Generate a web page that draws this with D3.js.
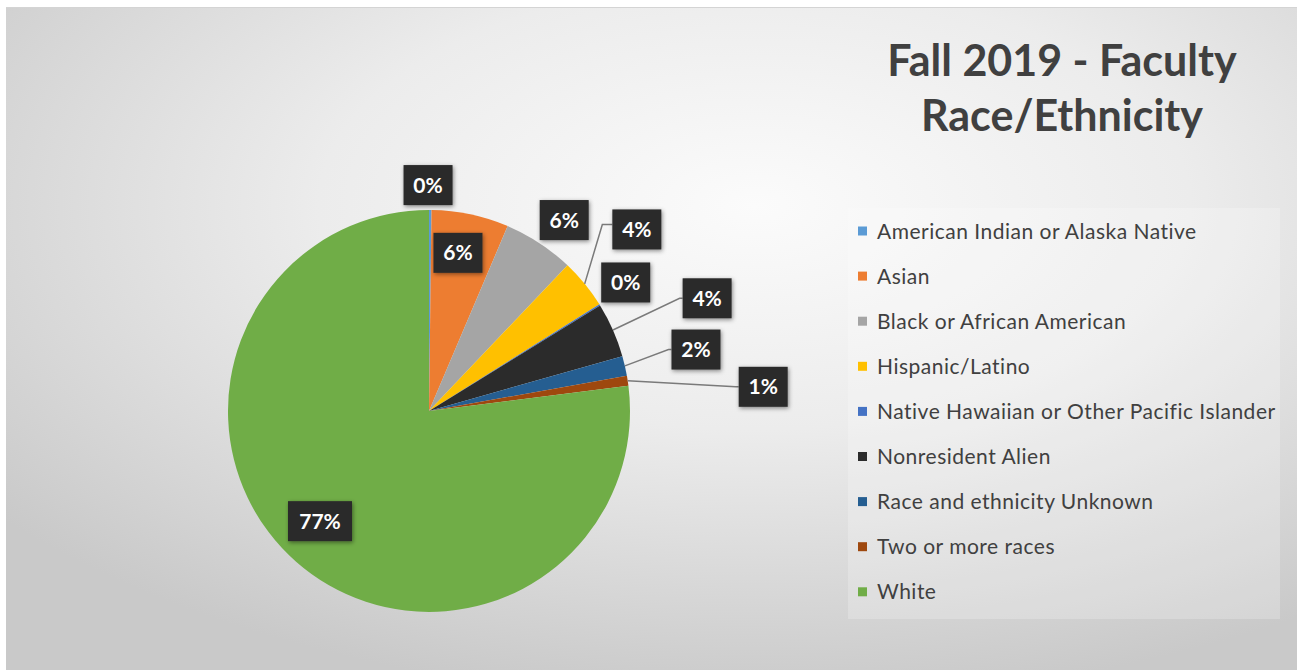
<!DOCTYPE html>
<html>
<head>
<meta charset="utf-8">
<script src="https://cdn.jsdelivr.net/npm/d3@7"></script>
<style>
  html, body { margin: 0; padding: 0; background: #ffffff; }
  svg { display: block; }
</style>
</head>
<body>
<svg id="chart" width="1297" height="670"></svg>
<script>
// Fall 2019 faculty headcount share by race/ethnicity (percent)
const categories = [
  "American Indian or Alaska Native",
  "Asian",
  "Black or African American",
  "Hispanic/Latino",
  "Native Hawaiian or Other Pacific Islander",
  "Nonresident Alien",
  "Race and ethnicity Unknown",
  "Two or more races",
  "White"
];
const shares = [0.2, 6.2, 5.7, 4.0, 0.1, 4.4, 1.6, 0.8, 77.0];
const sliceColors = ["#5b9bd5", "#ed7d31", "#a5a5a5", "#ffc000", "#4472c4",
                     "#2b2b2b", "#255e91", "#9e480e", "#70ad47"];
const titleLines = ["Fall 2019 - Faculty", "Race/Ethnicity"];

// Callout placement: angle shift (deg) from slice middle, distance as a multiple of the radius,
// and whether a leader line joins the callout to the slice edge
const calloutLayout = [
  { da: -0.6, k: 1.124, leader: false },
  { da: -1.5, k: 0.80,  leader: false },
  { da:  2.0, k: 1.164, leader: false },
  { da: -1.9, k: 1.373, leader: true, bend: true },
  { da: -1.3, k: 1.169, leader: false },
  { da:  1.7, k: 1.493, leader: true },
  { da:  0.0, k: 1.363, leader: true },
  { da:  4.5, k: 1.667, leader: true },
  { da:  3.3, k: 0.771, leader: false }
];

const W = 1297, H = 670;
const svg = d3.select("#chart");
const defs = svg.append("defs");

// Soft grey backdrop, lighter toward the upper middle
const bg = defs.append("radialGradient").attr("id", "bgGrad")
  .attr("cx", "58%").attr("cy", "30%").attr("r", "75%");
bg.append("stop").attr("offset", "0%").attr("stop-color", "#fbfbfb");
bg.append("stop").attr("offset", "45%").attr("stop-color", "#ececec");
bg.append("stop").attr("offset", "100%").attr("stop-color", "#c9c9c9");

const shadow = defs.append("filter").attr("id", "boxShadow")
  .attr("x", "-30%").attr("y", "-30%").attr("width", "160%").attr("height", "160%");
shadow.append("feDropShadow").attr("dx", 1).attr("dy", 1.5).attr("stdDeviation", 2)
  .attr("flood-color", "#000").attr("flood-opacity", 0.45);

svg.append("rect").attr("x", 6).attr("y", 7).attr("width", W - 6).attr("height", H - 7)
  .attr("fill", "url(#bgGrad)");
svg.append("line").attr("x1", 6).attr("x2", W).attr("y1", 7.5).attr("y2", 7.5)
  .attr("stroke", "#d4d4d4").attr("stroke-width", 1);

// Legend panel
svg.append("rect").attr("x", 848).attr("y", 208).attr("width", 432).attr("height", 411)
  .attr("fill", "#ffffff").attr("opacity", 0.22);

// Title
const title = svg.append("text").attr("text-anchor", "middle")
  .attr("font-family", "Lato, 'Open Sans', sans-serif").attr("font-weight", 700)
  .attr("font-size", 43).attr("fill", "#404040");
titleLines.forEach((t, i) => {
  title.append("tspan").attr("x", 1062).attr("y", 76 + i * 55).text(t);
});

// Pie
const cx = 429, cy = 411, R = 201;
const data = categories.map((c, i) => ({ name: c, value: shares[i], color: sliceColors[i], i }));
const pie = d3.pie().value(d => d.value).sort(null);
const arcs = pie(data);
const arc = d3.arc().innerRadius(0).outerRadius(R);

const g = svg.append("g").attr("transform", `translate(${cx},${cy})`);
g.selectAll("path.slice").data(arcs).join("path")
  .attr("class", "slice")
  .attr("d", arc)
  .attr("fill", d => d.data.color);

const polar = (angle, r) => [r * Math.sin(angle), -r * Math.cos(angle)];
const fmt = v => Math.round(v) + "%";

// Callouts
const callouts = g.append("g");
arcs.forEach((a, i) => {
  const lay = calloutLayout[i];
  const mid = (a.startAngle + a.endAngle) / 2;
  const [lx, ly] = polar(mid + lay.da * Math.PI / 180, lay.k * R);
  const label = fmt(a.data.value);
  const bw = label.length === 3 ? 64 : 49, bh = 40;
  const left = lx - bw / 2;

  if (lay.leader) {
    const [sx, sy] = polar(mid, R);
    const ty = lay.bend ? ly - 5 : ly;
    const pts = lay.bend
      ? [[sx, sy], [left - 10, ty], [left, ty]]
      : [[sx, sy], [left - 3, ty], [left, ty]];
    callouts.append("path")
      .attr("d", d3.line()(pts))
      .attr("fill", "none").attr("stroke", "#7a7a7a").attr("stroke-width", 1.5);
  }

  callouts.append("rect")
    .attr("x", left).attr("y", ly - bh / 2).attr("width", bw).attr("height", bh)
    .attr("fill", "#2a2a2a").attr("filter", "url(#boxShadow)");
  callouts.append("text")
    .attr("x", lx).attr("y", ly + 7.5).attr("text-anchor", "middle")
    .attr("font-family", "Lato, 'Open Sans', sans-serif").attr("font-weight", 700)
    .attr("font-size", 21).attr("fill", "#ffffff")
    .text(label);
});

// Legend
const legend = svg.append("g").attr("transform", "translate(858,231)");
const rows = legend.selectAll("g").data(data).join("g")
  .attr("transform", (d, i) => `translate(0,${i * 45.1})`);
rows.append("rect").attr("x", 0).attr("y", -4.5).attr("width", 9).attr("height", 9)
  .attr("fill", d => d.color);
rows.append("text").attr("x", 19).attr("y", 7.5)
  .attr("font-family", "Lato, 'Open Sans', sans-serif").attr("font-size", 21)
  .attr("letter-spacing", 0.5)
  .attr("fill", "#404040")
  .text(d => d.name);
</script>
</body>
</html>
